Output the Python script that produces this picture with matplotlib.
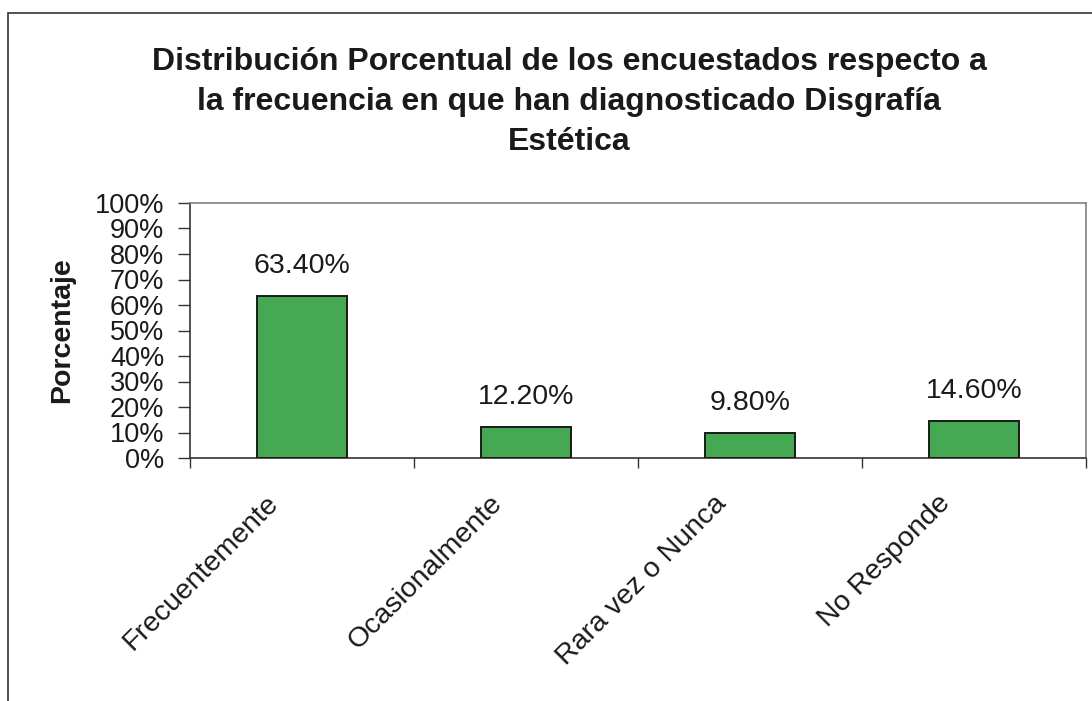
import matplotlib
matplotlib.use("Agg")
import matplotlib.pyplot as plt
from matplotlib.patches import Rectangle
import numpy as np

# chart data
categories = ["Frecuentemente", "Ocasionalmente", "Rara vez o Nunca", "No Responde"]
percentages = [63.4, 12.2, 9.8, 14.6]
value_labels = ["63.40%", "12.20%", "9.80%", "14.60%"]
y_ticks = list(range(0, 101, 10))

title = ("Distribución Porcentual de los encuestados respecto a\n"
         "la frecuencia en que han diagnosticado Disgrafía\n"
         "Estética")

BAR_GREEN = "#45a853"
INK = "#1a1a1a"

plt.rcParams["font.family"] = ["Liberation Sans", "DejaVu Sans"]

fig = plt.figure(figsize=(10.92, 7.01), dpi=100)
fig.patch.set_facecolor("white")

# outer chart border (only top and left edges show in the scan)
fig.patches.append(Rectangle((8 / 1092, -0.1), 1.2, (701 - 13) / 701 + 0.1,
                             transform=fig.transFigure, fill=False,
                             edgecolor="#333333", linewidth=1.2))

ax = fig.add_axes([190 / 1092, (701 - 458) / 701, 896 / 1092, 255 / 701])

x = np.arange(len(categories))
ax.bar(x, percentages, width=0.4, color=BAR_GREEN, edgecolor=INK,
       linewidth=1.4, zorder=3)

for xi, v, lab in zip(x, percentages, value_labels):
    ax.annotate(lab, (xi, v), xytext=(0, 21.5), textcoords="offset points",
                ha="center", va="center", fontsize=20.5, color=INK)

ax.set_xlim(-0.5, len(categories) - 0.5)
ax.set_ylim(0, 100)
ax.set_yticks(y_ticks)
ax.set_yticklabels([f"{t}%" for t in y_ticks], fontsize=19.5)
ax.tick_params(axis="y", direction="out", length=8.5, width=1, pad=10,
               colors="#333333", labelcolor=INK)

# category ticks sit between bars
ax.set_xticks(np.arange(len(categories) + 1) - 0.5)
ax.set_xticklabels([])
ax.tick_params(axis="x", direction="out", length=7, width=1, colors="#333333")

# rotated category names under each bar
for xi, name in zip(x, categories):
    ax.annotate(name, (xi, 0), xycoords=("data", "axes fraction"),
                xytext=(-20, -30), textcoords="offset points",
                ha="right", va="center", rotation=45, rotation_mode="anchor",
                fontsize=20.5, color=INK)

for side in ("left", "bottom"):
    ax.spines[side].set_color("#333333")
    ax.spines[side].set_linewidth(1.2)
for side in ("top", "right"):
    ax.spines[side].set_color("#808080")
    ax.spines[side].set_linewidth(1.2)

fig.text(62 / 1092, (701 - 330) / 701, "Porcentaje", rotation=90,
         ha="center", va="center", fontsize=20.5, fontweight="bold", color=INK)

fig.text(569 / 1092, (701 - 102) / 701, title, ha="center", va="center",
         fontsize=23, fontweight="bold", color=INK, linespacing=1.45)

fig.savefig("out.png", dpi=100)
